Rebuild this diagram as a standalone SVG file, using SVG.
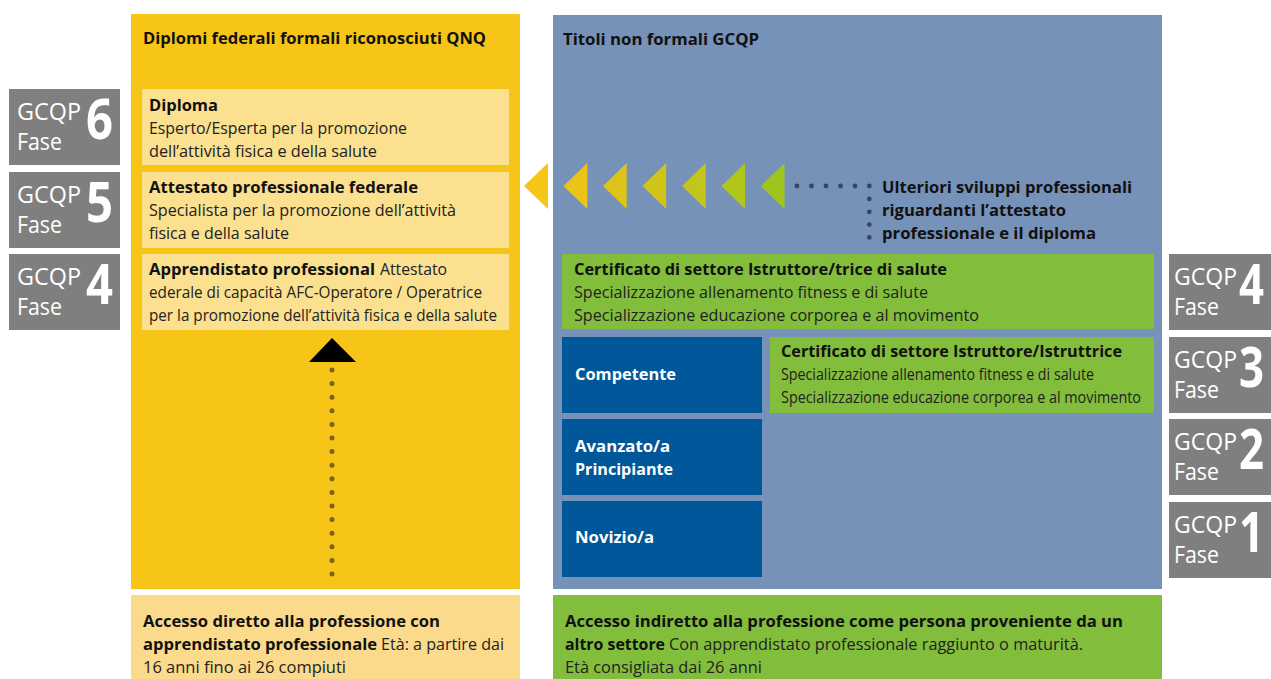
<svg xmlns="http://www.w3.org/2000/svg" width="1271" height="679" viewBox="0 0 1271 679">
<style>
text{font-family:"Open Sans","Liberation Sans",sans-serif;}
.b{font-weight:bold;font-size:16px;fill:#111;}
.r{font-size:16px;fill:#222;}
.w{font-weight:bold;font-size:16px;fill:#fff;}
.g1{font-size:23px;fill:#fff;}
.gn{font-size:56px;font-weight:bold;fill:#fff;}
.gray{fill:#7f7f7f;}
.ly{fill:#fae08f;}
.grn{fill:#82bd3c;}
.db{fill:#00589a;}
.dot{fill:#3b4659;}
</style>
<rect width="1271" height="679" fill="#fff"/>

<g id="panel-qnq">
<rect x="131" y="14" width="389" height="575" fill="#f6c517"/>
<text class="b" x="143" y="44" textLength="343" lengthAdjust="spacingAndGlyphs">Diplomi federali formali riconosciuti QNQ</text>
</g>
<g id="panel-gcqp">
<rect x="553" y="15" width="609" height="574" fill="#7692b8"/>
<text class="b" x="563" y="45" textLength="196" lengthAdjust="spacingAndGlyphs">Titoli non formali GCQP</text>
</g>

<g id="diploma">
<rect class="ly" x="142" y="89" width="367" height="76"/>
<text class="b" x="149" y="111" textLength="69" lengthAdjust="spacingAndGlyphs">Diploma</text>
<text class="r" x="149" y="134" textLength="258" lengthAdjust="spacingAndGlyphs">Esperto/Esperta per la promozione</text>
<text class="r" x="149" y="157" textLength="228" lengthAdjust="spacingAndGlyphs">dell’attività fisica e della salute</text>
</g>
<g id="attestato">
<rect class="ly" x="142" y="172" width="367" height="76"/>
<text class="b" x="149" y="193" textLength="269" lengthAdjust="spacingAndGlyphs">Attestato professionale federale</text>
<text class="r" x="149" y="216" textLength="307" lengthAdjust="spacingAndGlyphs">Specialista per la promozione dell’attività</text>
<text class="r" x="149" y="239" textLength="140" lengthAdjust="spacingAndGlyphs">fisica e della salute</text>
</g>
<g id="apprendistato">
<rect class="ly" x="142" y="254" width="367" height="76"/>
<text class="b" x="149" y="275" textLength="226" lengthAdjust="spacingAndGlyphs">Apprendistato professional</text>
<text class="r" x="380" y="275" textLength="67" lengthAdjust="spacingAndGlyphs">Attestato</text>
<text class="r" x="149" y="298" textLength="333" lengthAdjust="spacingAndGlyphs">ederale di capacità AFC-Operatore / Operatrice</text>
<text class="r" x="149" y="321" textLength="348" lengthAdjust="spacingAndGlyphs">per la promozione dell’attività fisica e della salute</text>
</g>

<g id="fase6-left">
<rect class="gray" x="9" y="89" width="111" height="76"/>
<text class="g1" x="17" y="119.5" textLength="64" lengthAdjust="spacingAndGlyphs">GCQP</text>
<text class="g1" x="17" y="150" textLength="45" lengthAdjust="spacingAndGlyphs">Fase</text>
<text class="gn" x="86" y="139" textLength="27" lengthAdjust="spacingAndGlyphs">6</text>
</g>
<g id="fase5-left">
<rect class="gray" x="9" y="172" width="111" height="76"/>
<text class="g1" x="17" y="202.5" textLength="64" lengthAdjust="spacingAndGlyphs">GCQP</text>
<text class="g1" x="17" y="233" textLength="45" lengthAdjust="spacingAndGlyphs">Fase</text>
<text class="gn" x="86" y="222" textLength="27" lengthAdjust="spacingAndGlyphs">5</text>
</g>
<g id="fase4-left">
<rect class="gray" x="9" y="254" width="111" height="76"/>
<text class="g1" x="17" y="284.5" textLength="64" lengthAdjust="spacingAndGlyphs">GCQP</text>
<text class="g1" x="17" y="315" textLength="45" lengthAdjust="spacingAndGlyphs">Fase</text>
<text class="gn" x="86" y="304" textLength="27" lengthAdjust="spacingAndGlyphs">4</text>
</g>

<g id="fase4-right">
<rect class="gray" x="1169" y="254" width="102" height="76"/>
<text class="g1" x="1174" y="284.5" textLength="63" lengthAdjust="spacingAndGlyphs">GCQP</text>
<text class="g1" x="1174" y="315" textLength="45" lengthAdjust="spacingAndGlyphs">Fase</text>
<text class="gn" x="1239" y="304" textLength="25" lengthAdjust="spacingAndGlyphs">4</text>
</g>
<g id="fase3-right">
<rect class="gray" x="1169" y="337" width="102" height="76"/>
<text class="g1" x="1174" y="367.5" textLength="63" lengthAdjust="spacingAndGlyphs">GCQP</text>
<text class="g1" x="1174" y="398" textLength="45" lengthAdjust="spacingAndGlyphs">Fase</text>
<text class="gn" x="1239" y="387" textLength="25" lengthAdjust="spacingAndGlyphs">3</text>
</g>
<g id="fase2-right">
<rect class="gray" x="1169" y="419" width="102" height="76"/>
<text class="g1" x="1174" y="449.5" textLength="63" lengthAdjust="spacingAndGlyphs">GCQP</text>
<text class="g1" x="1174" y="480" textLength="45" lengthAdjust="spacingAndGlyphs">Fase</text>
<text class="gn" x="1239" y="469" textLength="25" lengthAdjust="spacingAndGlyphs">2</text>
</g>
<g id="fase1-right">
<rect class="gray" x="1169" y="502" width="102" height="76"/>
<text class="g1" x="1174" y="532.5" textLength="63" lengthAdjust="spacingAndGlyphs">GCQP</text>
<text class="g1" x="1174" y="563" textLength="45" lengthAdjust="spacingAndGlyphs">Fase</text>
<text class="gn" x="1239" y="552" textLength="25" lengthAdjust="spacingAndGlyphs">1</text>
</g>

<g id="cert-salute">
<rect class="grn" x="562" y="254" width="592" height="75"/>
<text class="b" x="574" y="275" textLength="373" lengthAdjust="spacingAndGlyphs">Certificato di settore Istruttore/trice di salute</text>
<text class="r" x="574" y="298" textLength="354" lengthAdjust="spacingAndGlyphs">Specializzazione allenamento fitness e di salute</text>
<text class="r" x="574" y="321" textLength="405" lengthAdjust="spacingAndGlyphs">Specializzazione educazione corporea e al movimento</text>
</g>
<g id="cert-istruttore">
<rect class="grn" x="770" y="337" width="384" height="76"/>
<text class="b" x="781" y="357" textLength="341" lengthAdjust="spacingAndGlyphs">Certificato di settore Istruttore/Istruttrice</text>
<text class="r" x="781" y="380" textLength="313" lengthAdjust="spacingAndGlyphs">Specializzazione allenamento fitness e di salute</text>
<text class="r" x="781" y="403" textLength="360" lengthAdjust="spacingAndGlyphs">Specializzazione educazione corporea e al movimento</text>
</g>

<g id="competente">
<rect class="db" x="562" y="337" width="200" height="76"/>
<text class="w" x="575" y="380" textLength="101" lengthAdjust="spacingAndGlyphs">Competente</text>
</g>
<g id="avanzato">
<rect class="db" x="562" y="419" width="200" height="76"/>
<text class="w" x="575" y="452" textLength="95" lengthAdjust="spacingAndGlyphs">Avanzato/a</text>
<text class="w" x="575" y="475" textLength="98" lengthAdjust="spacingAndGlyphs">Principiante</text>
</g>
<g id="novizio">
<rect class="db" x="562" y="501" width="200" height="76"/>
<text class="w" x="575" y="543" textLength="79" lengthAdjust="spacingAndGlyphs">Novizio/a</text>
</g>

<g id="accesso-diretto">
<rect x="131" y="595" width="389" height="84" fill="#fbda8b"/>
<text class="b" x="143" y="627" textLength="297" lengthAdjust="spacingAndGlyphs">Accesso diretto alla professione con</text>
<text class="b" x="143" y="650" textLength="234" lengthAdjust="spacingAndGlyphs">apprendistato professionale</text>
<text class="r" x="381" y="650" textLength="123" lengthAdjust="spacingAndGlyphs">Età: a partire dai</text>
<text class="r" x="143" y="673" textLength="203" lengthAdjust="spacingAndGlyphs">16 anni fino ai 26 compiuti</text>
</g>
<g id="accesso-indiretto">
<rect class="grn" x="553" y="595" width="609" height="84"/>
<text class="b" x="565" y="627" textLength="558" lengthAdjust="spacingAndGlyphs">Accesso indiretto alla professione come persona proveniente da un</text>
<text class="b" x="565" y="650" textLength="100" lengthAdjust="spacingAndGlyphs">altro settore</text>
<text class="r" x="669" y="650" textLength="414" lengthAdjust="spacingAndGlyphs">Con apprendistato professionale raggiunto o maturità.</text>
<text class="r" x="565" y="673" textLength="197" lengthAdjust="spacingAndGlyphs">Età consigliata dai 26 anni</text>
</g>

<g id="ulteriori">
<text class="b" x="882" y="193" textLength="250" lengthAdjust="spacingAndGlyphs">Ulteriori sviluppi professionali</text>
<text class="b" x="882" y="216" textLength="184" lengthAdjust="spacingAndGlyphs">riguardanti l’attestato</text>
<text class="b" x="882" y="239" textLength="214" lengthAdjust="spacingAndGlyphs">professionale e il diploma</text>
</g>

<g id="connectors">
<polygon points="524,186 548,163 548,209" fill="#f5c518"/>
<polygon points="563.5,186 587.3,163 587.3,209" fill="#ecc319"/>
<polygon points="603,186 626.7,163 626.7,209" fill="#dec31a"/>
<polygon points="642.5,186 666.2,163 666.2,209" fill="#d0c41b"/>
<polygon points="682,186 705.7,163 705.7,209" fill="#c1c51c"/>
<polygon points="721.4,186 745.1,163 745.1,209" fill="#b0c61d"/>
<polygon points="760.8,186 784.5,163 784.5,209" fill="#a0c41e"/>
<circle class="dot" cx="797" cy="186" r="2.4"/>
<circle class="dot" cx="811.5" cy="186" r="2.4"/>
<circle class="dot" cx="826" cy="186" r="2.4"/>
<circle class="dot" cx="840.5" cy="186" r="2.4"/>
<circle class="dot" cx="855" cy="186" r="2.4"/>
<circle class="dot" cx="869.3" cy="186" r="2.4"/>
<circle class="dot" cx="869.3" cy="199" r="2.4"/>
<circle class="dot" cx="869.3" cy="211.8" r="2.4"/>
<circle class="dot" cx="869.3" cy="224.6" r="2.4"/>
<circle class="dot" cx="869.3" cy="237.4" r="2.4"/>
<line x1="332" y1="370" x2="332" y2="575" stroke="#7d6113" stroke-width="5" stroke-linecap="round" stroke-dasharray="0 13.6"/>
<polygon points="332,338 309,362 356,362" fill="#000"/>
</g>
</svg>
